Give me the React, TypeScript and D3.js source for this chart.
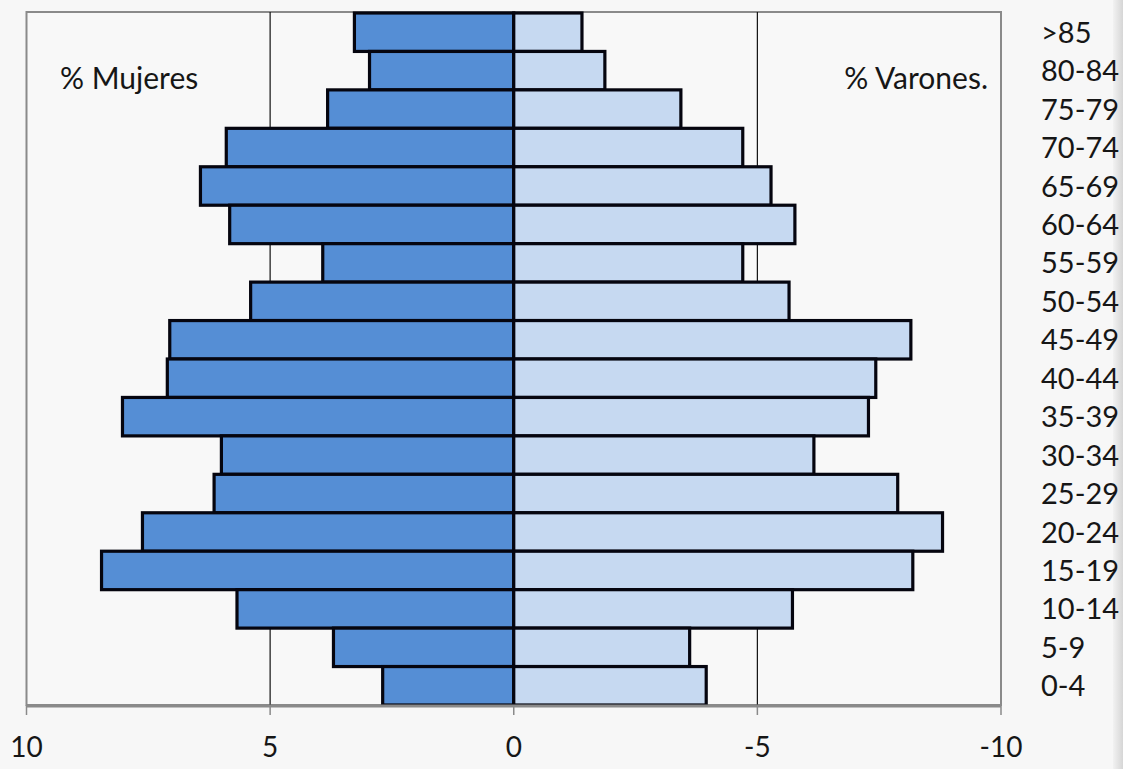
import React from "react";
import * as d3 from "d3";

const categories = [">85", "80-84", "75-79", "70-74", "65-69", "60-64", "55-59", "50-54", "45-49", "40-44", "35-39", "30-34", "25-29", "20-24", "15-19", "10-14", "5-9", "0-4"];
const mujeres = [3.27, 2.96, 3.82, 5.9, 6.43, 5.83, 3.92, 5.4, 7.06, 7.11, 8.03, 6.0, 6.15, 7.62, 8.46, 5.68, 3.7, 2.69];
const varones = [1.4, 1.87, 3.43, 4.7, 5.28, 5.77, 4.7, 5.65, 8.15, 7.43, 7.28, 6.16, 7.88, 8.8, 8.19, 5.72, 3.61, 3.95];
const tickValues = [10, 5, 0, -5, -10];
const gridValues = [5, -5];
const labelMujeres = "% Mujeres";
const labelVarones = "% Varones.";

const W = 1123;
const H = 769;
const FONT = "Lato, 'Open Sans', sans-serif";

export default function App() {
  const x = d3.scaleLinear().domain([10, -10]).range([26.5, 1001]);
  const y = d3.scaleBand<string>().domain(categories).range([13, 705]).padding(0);
  const top = 12;
  const bottom = 705;

  return (
    <svg width={W} height={H} style={{ position: "fixed", left: 0, top: 0, background: "#f7f7f7" }}>
      <defs>
        <linearGradient id="sb" x1="0" x2="1" y1="0" y2="0">
          <stop offset="0" stopColor="#f2f2f2" />
          <stop offset="1" stopColor="#d6d6d6" />
        </linearGradient>
      </defs>
      <rect x={0} y={0} width={W} height={H} fill="#f7f7f7" />
      <rect x={1113} y={0} width={10} height={H} fill="url(#sb)" />
      {/* plot border */}
      <rect x={x(10)} y={top} width={x(-10) - x(10)} height={bottom - top} fill="#f8f8f8" stroke="#8a8a8a" strokeWidth={2} />
      {/* grid lines */}
      {gridValues.map((v) => (
        <line key={v} x1={x(v)} x2={x(v)} y1={top} y2={bottom} stroke="#111" strokeWidth={1.2} />
      ))}
      {/* bars mujeres */}
      {categories.map((c, i) => (
        <rect
          key={"m" + c}
          x={x(mujeres[i])}
          y={y(c)!}
          width={x(0) - x(mujeres[i])}
          height={y.bandwidth()}
          fill="#558ed5"
          stroke="#05050f"
          strokeWidth={3.2}
        />
      ))}
      {/* bars varones */}
      {categories.map((c, i) => (
        <rect
          key={"v" + c}
          x={x(0)}
          y={y(c)!}
          width={x(-varones[i]) - x(0)}
          height={y.bandwidth()}
          fill="#c6d9f1"
          stroke="#05050f"
          strokeWidth={3.2}
        />
      ))}
      {/* bottom axis */}
      <line x1={x(10)} x2={x(-10)} y1={bottom + 1} y2={bottom + 1} stroke="#8a8a8a" strokeWidth={3} />
      {tickValues.map((t) => (
        <g key={t}>
          <line x1={x(t)} x2={x(t)} y1={bottom} y2={bottom + 10} stroke="#8a8a8a" strokeWidth={1.5} />
          <text x={x(t)} y={757} textAnchor="middle" fontFamily={FONT} fontSize={28} fill="#161616">
            {t}
          </text>
        </g>
      ))}
      {/* category labels */}
      {categories.map((c) => (
        <text key={"l" + c} x={1041} y={y(c)! + y.bandwidth() / 2 + 10.5} fontFamily={FONT} fontSize={29} fill="#161616">
          {c}
        </text>
      ))}
      <text x={60} y={89} fontFamily={FONT} fontSize={30} fill="#161616">{labelMujeres}</text>
      <text x={988} y={89} textAnchor="end" fontFamily={FONT} fontSize={30} fill="#161616">{labelVarones}</text>
    </svg>
  );
}
